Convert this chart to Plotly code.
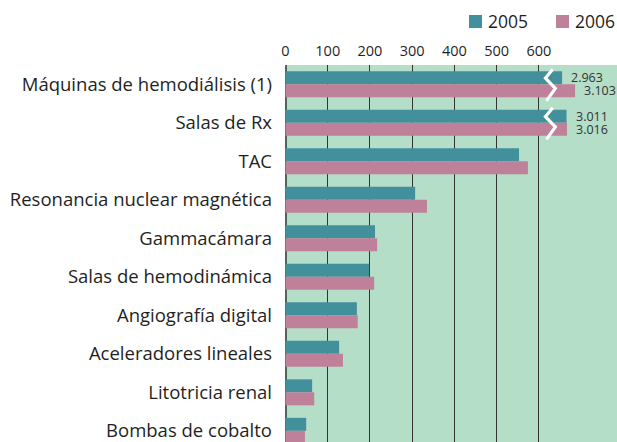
import plotly.graph_objects as go

# ---- data ----
categories = [
    "Máquinas de hemodiálisis (1)",
    "Salas de Rx",
    "TAC",
    "Resonancia nuclear magnética",
    "Gammacámara",
    "Salas de hemodinámica",
    "Angiografía digital",
    "Aceleradores lineales",
    "Litotricia renal",
    "Bombas de cobalto",
]
series_names = ["2005", "2006"]
values_2005 = [2963, 3011, 553, 307, 212, 198, 169, 127, 63, 49]
values_2006 = [3103, 3016, 574, 335, 217, 210, 171, 136, 68, 46]
tick_values = [0, 100, 200, 300, 400, 500, 600]

# ---- style / layout constants ----
W, H = 617, 442
M_L, M_R, M_T, M_B = 285, 0, 65, 0
X_RANGE = [-1.2, 785]
Y_RANGE = [9.29, -0.5]
BREAK_FROM = 2895      # values above this are drawn on a compressed (broken) scale
BREAK_AT = 640
BREAK_SCALE = 0.22
BREAK_MARK_X = 626
COL_2005 = "#42909c"
COL_2006 = "#bf8199"
BG = "#b4dec8"
FONT = "Open Sans"
TXT = "#1f1f1f"


def shown(v):
    """Map a value onto the broken axis."""
    if v > BREAK_FROM:
        return BREAK_AT + (v - BREAK_FROM) * BREAK_SCALE
    return v


def fmt(v):
    return f"{v:,}".replace(",", ".")


series = [values_2005, values_2006]
colors = [COL_2005, COL_2006]

fig = go.Figure()
for name, vals, col in zip(series_names, series, colors):
    fig.add_trace(go.Bar(
        y=categories, x=[shown(v) for v in vals], name=name, orientation="h",
        marker=dict(color=col, line=dict(width=0)),
        customdata=vals, hovertemplate="%{y}: %{customdata}<extra>" + name + "</extra>",
        showlegend=False,
    ))

BARGAP = 0.325
half = (1 - BARGAP) / 4.0  # offset of each bar centre from the category centre

annotations = []
shapes = []
for si, vals in enumerate(series):
    for ci, v in enumerate(vals):
        if v > BREAK_FROM:
            annotations.append(dict(
                x=shown(v), y=ci + (-half if si == 0 else half), xref="x", yref="y",
                text=fmt(v), showarrow=False, xanchor="left", yanchor="middle",
                xshift=7, font=dict(family=FONT, size=12.5, color="#333333"),
            ))

# break marks (white zigzag) on the broken categories
broken = sorted({ci for vals in series for ci, v in enumerate(vals) if v > BREAK_FROM})
zx = [7, -10.5, 13, -8]
zy = [-0.39, -0.16, 0.11, 0.43]
for ci in broken:
    pts = [(BREAK_MARK_X + dx, ci + dy) for dx, dy in zip(zx, zy)]
    path = "M " + " L ".join(f"{px},{py}" for px, py in pts)
    shapes.append(dict(type="path", path=path, xref="x", yref="y",
                       line=dict(color="white", width=3.2), layer="above"))


# manual legend (pixel positions converted to paper coords)
def pxx(p):
    return (p - M_L) / (W - M_L - M_R)


def pxy(p):
    return (H - M_B - p) / (H - M_T - M_B)


legend_x = [469, 556]
for name, col, lx in zip(series_names, colors, legend_x):
    shapes.append(dict(type="rect", xref="paper", yref="paper",
                       x0=pxx(lx), x1=pxx(lx + 13), y0=pxy(28), y1=pxy(15),
                       fillcolor=col, line=dict(width=0)))
    annotations.append(dict(x=pxx(lx + 17), y=pxy(21.5), xref="paper", yref="paper",
                            text=name, showarrow=False, xanchor="left", yanchor="middle",
                            font=dict(family=FONT, size=17.5, color=TXT)))

fig.update_layout(
    width=W, height=H,
    margin=dict(l=M_L, r=M_R, t=M_T, b=M_B, pad=0),
    paper_bgcolor="white", plot_bgcolor=BG,
    barmode="group", bargap=BARGAP, bargroupgap=0,
    font=dict(family=FONT, color=TXT),
    shapes=shapes, annotations=annotations,
    xaxis=dict(
        side="top", range=X_RANGE, tickvals=tick_values,
        ticktext=[str(t) for t in tick_values],
        showgrid=True, gridcolor="#333333", gridwidth=1,
        zeroline=True, zerolinecolor="#55625a", zerolinewidth=2,
        showline=False, ticks="", ticklabelstandoff=5,
        tickfont=dict(family=FONT, size=14.5, color=TXT),
    ),
    yaxis=dict(
        type="category", range=Y_RANGE, showgrid=False, zeroline=False,
        ticks="", ticklabelstandoff=12,
        tickfont=dict(family=FONT, size=18.5, color=TXT),
    ),
)

# the page's default body margin would shift the figure; remove it
fig.write_html(
    "out.html",
    config={"displayModeBar": False},
    post_script="document.body.style.margin='0';document.body.style.overflow='hidden';",
)
